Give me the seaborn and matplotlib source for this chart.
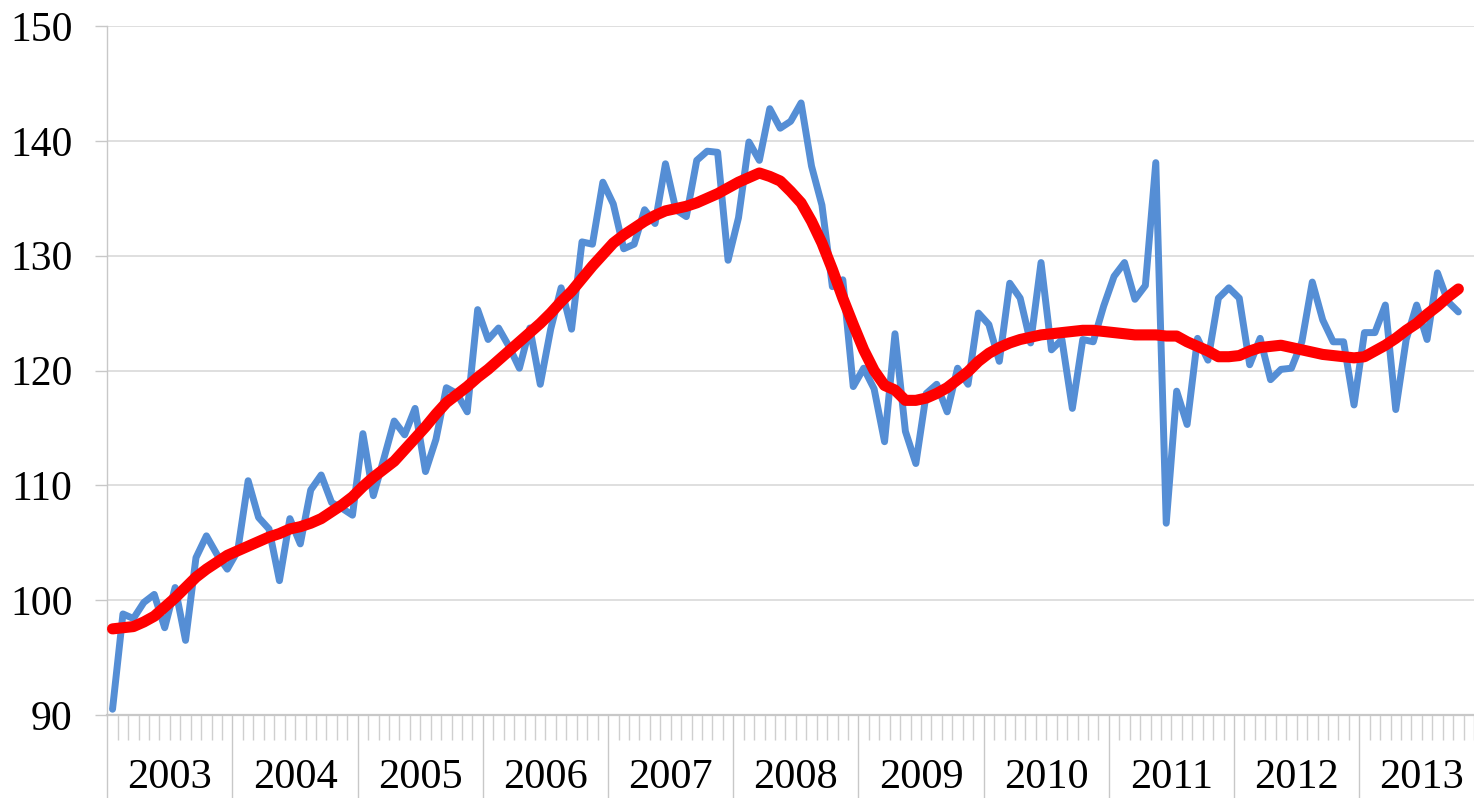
import numpy as np
import pandas as pd
import matplotlib
matplotlib.use("Agg")
import matplotlib.pyplot as plt
import seaborn as sns

# ---------------- data ----------------
years = ["2003", "2004", "2005", "2006", "2007", "2008",
         "2009", "2010", "2011", "2012", "2013"]
months_per_year = 12

index_values = [
    90.5, 98.8, 98.4, 99.8, 100.5, 97.6, 101.1, 96.5, 103.7, 105.6, 104.0, 102.7,
    104.3, 110.4, 107.2, 106.2, 101.7, 107.1, 104.9, 109.6, 110.9, 108.5, 108.0, 107.4,
    114.5, 109.1, 112.3, 115.6, 114.4, 116.7, 111.2, 114.0, 118.5, 118.0, 116.4, 125.3,
    122.7, 123.7, 122.1, 120.2, 123.7, 118.8, 123.6, 127.2, 123.6, 131.2, 131.0, 136.4,
    134.5, 130.6, 131.0, 134.0, 132.8, 138.0, 134.0, 133.4, 138.3, 139.1, 139.0, 129.6,
    133.3, 139.9, 138.3, 142.8, 141.1, 141.7, 143.3, 137.8, 134.4, 127.3, 127.9, 118.6,
    120.2, 118.4, 113.8, 123.2, 114.7, 111.9, 118.0, 118.8, 116.4, 120.2, 118.8, 125.0,
    124.0, 120.8, 127.6, 126.3, 122.4, 129.4, 121.8, 122.7, 116.7, 122.7, 122.5, 125.6,
    128.2, 129.4, 126.2, 127.4, 138.1, 106.7, 118.2, 115.3, 122.8, 120.9, 126.3, 127.2,
    126.3, 120.5, 122.8, 119.2, 120.1, 120.2, 122.5, 127.7, 124.4, 122.5, 122.5, 117.0,
    123.3, 123.3, 125.7, 116.6, 122.7, 125.7, 122.7, 128.5, 126.0, 125.1,
]

trend_values = [
    97.5, 97.6, 97.7, 98.1, 98.6, 99.4, 100.2, 101.1, 102.0, 102.7, 103.3, 103.9,
    104.3, 104.7, 105.1, 105.5, 105.8, 106.2, 106.4, 106.7, 107.1, 107.7, 108.3, 109.0,
    109.9, 110.7, 111.4, 112.1, 113.1, 114.1, 115.1, 116.2, 117.2, 117.9, 118.6, 119.4,
    120.1, 120.9, 121.7, 122.5, 123.3, 124.1, 125.0, 126.0, 126.9, 128.0, 129.1, 130.1,
    131.1, 131.8, 132.4, 133.0, 133.5, 133.9, 134.1, 134.3, 134.6, 135.0, 135.4, 135.9,
    136.4, 136.8, 137.2, 136.9, 136.5, 135.6, 134.6, 133.0, 131.1, 128.8, 126.3, 124.0,
    121.8, 120.0, 118.7, 118.3, 117.4, 117.4, 117.6, 118.0, 118.5, 119.2, 119.9, 120.8,
    121.5, 122.0, 122.4, 122.7, 122.9, 123.1, 123.2, 123.3, 123.4, 123.5, 123.5, 123.4,
    123.3, 123.2, 123.1, 123.1, 123.1, 123.0, 123.0, 122.5, 122.1, 121.7, 121.2, 121.2,
    121.3, 121.7, 122.0, 122.1, 122.2, 122.0, 121.8, 121.6, 121.4, 121.3, 121.2, 121.1,
    121.2, 121.7, 122.2, 122.8, 123.5, 124.1, 124.9, 125.6, 126.4, 127.1,
]

y_ticks = [90, 100, 110, 120, 130, 140, 150]

# ---------------- styling ----------------
sns.set_theme(style="white")
plt.rcParams["font.family"] = ["Liberation Serif", "DejaVu Serif"]

W, H = 1474, 798
fig = plt.figure(figsize=(W / 100, H / 100), dpi=100)
left_px, top_px, bottom_px = 107.3, 26.0, 715.0
month_px = 10.445
ax = fig.add_axes([left_px / W, (H - bottom_px) / H,
                   (W - left_px) / W, (bottom_px - top_px) / H])

df = pd.DataFrame({
    "month": np.arange(len(index_values)),
    "index": index_values,
    "trend": trend_values,
})

blue = "#558ED5"
red = "#FF0000"
sns.lineplot(data=df, x="month", y="index", ax=ax, color=blue, linewidth=5.0,
             solid_capstyle="round", solid_joinstyle="round", zorder=3, clip_on=False)
sns.lineplot(data=df, x="month", y="trend", ax=ax, color=red, linewidth=8.0,
             solid_capstyle="round", solid_joinstyle="round", zorder=4, clip_on=False)

x_right = -0.5 + (W - left_px) / month_px
ax.set_xlim(-0.5, x_right)
ax.set_ylim(90, 150)

# y axis
ax.set_yticks(y_ticks)
ax.set_yticklabels([str(v) for v in y_ticks])
ax.yaxis.grid(True, color="#D9D9D9", linewidth=1.2, zorder=0)
ax.xaxis.grid(False)
ax.tick_params(axis="y", which="major", left=True, length=8.6, width=1.0,
               color="#C8C8C8", pad=16.5, labelsize=30, labelcolor="black")

# x axis: month boundaries (minor) and year boundaries (major)
n_slots = len(years) * months_per_year
month_bounds = [k - 0.5 for k in range(1, n_slots) if k % months_per_year != 0]
year_bounds = [k * months_per_year - 0.5 for k in range(0, len(years))]
ax.set_xticks(year_bounds)
ax.set_xticklabels([])
ax.set_xticks(month_bounds, minor=True)
ax.tick_params(axis="x", which="major", bottom=True, length=60, width=1.0,
               color="#C8C8C8")
ax.tick_params(axis="x", which="minor", bottom=True, length=18, width=1.0,
               color="#CFCFCF")
ax.set_xlabel("")
ax.set_ylabel("")

# year labels centred under each 12-month group
trans = ax.get_xaxis_transform()
y_lab = -(777.5 - bottom_px) / (bottom_px - top_px)
for k, yr in enumerate(years):
    cx = k * months_per_year + (months_per_year - 1) / 2.0
    ax.text(cx, y_lab, yr, transform=trans, ha="center", va="center",
            fontsize=30.5, color="black", clip_on=False)

for s in ["top", "right"]:
    ax.spines[s].set_visible(False)
ax.spines["left"].set_color("#C8C8C8")
ax.spines["left"].set_linewidth(1.0)
ax.spines["bottom"].set_color("#C8C8C8")
ax.spines["bottom"].set_linewidth(1.6)
ax.set_facecolor("white")
fig.patch.set_facecolor("white")

fig.savefig("out.png", dpi=100, facecolor="white")
